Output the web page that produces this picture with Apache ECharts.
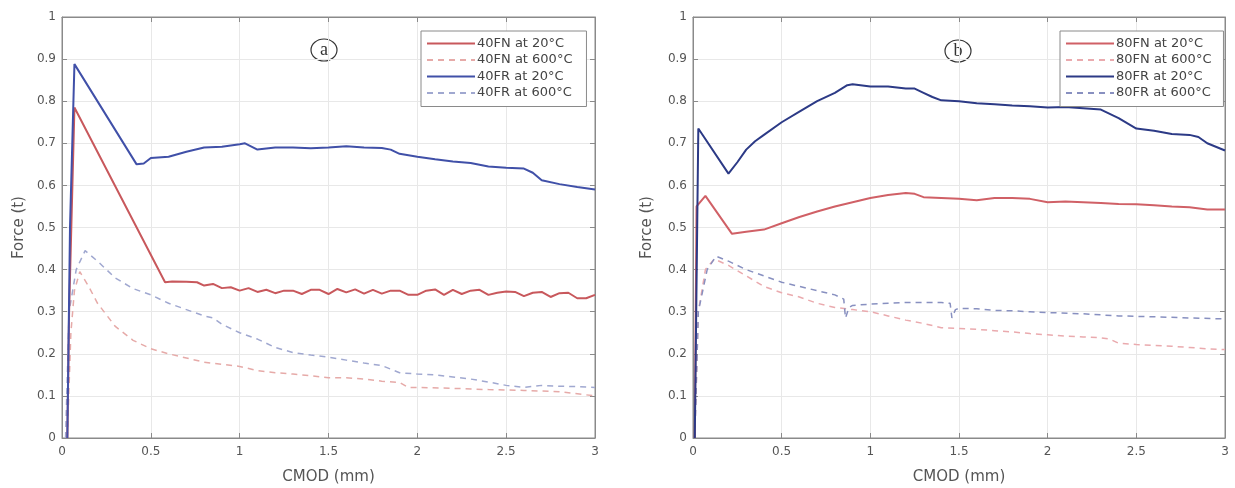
<!DOCTYPE html>
<html><head><meta charset="utf-8">
<script src="https://cdn.jsdelivr.net/npm/echarts@6/dist/echarts.min.js"></script>
<style>html,body{margin:0;padding:0;background:#fff}#c{width:1235px;height:488px}</style>
</head><body><div id="c"></div>
<script>
// ---- Data (CMOD mm, Force t) ----
const xTicks = ['0','0.5','1','1.5','2','2.5','3'];
const namesA = ['40FN at 20°C','40FN at 600°C','40FR at 20°C','40FR at 600°C'];
const namesB = ['80FN at 20°C','80FN at 600°C','80FR at 20°C','80FR at 600°C'];

const fn40_20 = [[0.03,0],[0.04,0.3],[0.07,0.785],[0.58,0.37],[0.62,0.372],[0.7,0.371],[0.76,0.37],[0.8,0.362],[0.85,0.366],[0.9,0.356],[0.95,0.358],[1.0,0.35],[1.05,0.356],[1.1,0.347],[1.15,0.352],[1.2,0.344],[1.25,0.35],[1.3,0.35],[1.35,0.342],[1.4,0.352],[1.45,0.352],[1.5,0.342],[1.55,0.354],[1.6,0.346],[1.65,0.353],[1.7,0.343],[1.75,0.352],[1.8,0.343],[1.85,0.35],[1.9,0.35],[1.95,0.34],[2.0,0.34],[2.05,0.35],[2.1,0.353],[2.15,0.34],[2.2,0.352],[2.25,0.342],[2.3,0.35],[2.35,0.352],[2.4,0.34],[2.45,0.345],[2.5,0.348],[2.55,0.347],[2.6,0.337],[2.65,0.345],[2.7,0.347],[2.75,0.335],[2.8,0.344],[2.85,0.345],[2.9,0.332],[2.95,0.332],[3.0,0.34]];
const fn40_600 = [[0.03,0],[0.05,0.25],[0.07,0.35],[0.1,0.395],[0.15,0.36],[0.2,0.32],[0.3,0.265],[0.4,0.232],[0.5,0.212],[0.6,0.2],[0.7,0.19],[0.8,0.18],[0.9,0.175],[1.0,0.17],[1.1,0.16],[1.2,0.155],[1.3,0.152],[1.4,0.148],[1.5,0.143],[1.6,0.143],[1.7,0.14],[1.8,0.135],[1.9,0.132],[1.95,0.12],[2.0,0.12],[2.2,0.118],[2.4,0.115],[2.5,0.114],[2.6,0.113],[2.8,0.11],[3.0,0.1]];
const fr40_20 = [[0.03,0],[0.045,0.5],[0.07,0.888],[0.42,0.65],[0.46,0.652],[0.5,0.665],[0.6,0.668],[0.7,0.68],[0.8,0.69],[0.9,0.692],[1.0,0.698],[1.03,0.7],[1.1,0.685],[1.2,0.69],[1.3,0.69],[1.4,0.688],[1.5,0.69],[1.6,0.693],[1.7,0.69],[1.8,0.689],[1.85,0.685],[1.9,0.675],[2.0,0.668],[2.1,0.662],[2.2,0.657],[2.3,0.653],[2.4,0.645],[2.5,0.642],[2.6,0.64],[2.65,0.63],[2.7,0.612],[2.8,0.603],[2.9,0.596],[3.0,0.59]];
const fr40_600 = [[0.02,0],[0.04,0.3],[0.08,0.4],[0.13,0.445],[0.2,0.42],[0.3,0.38],[0.4,0.355],[0.5,0.34],[0.6,0.32],[0.7,0.305],[0.8,0.29],[0.85,0.285],[0.9,0.27],[1.0,0.25],[1.1,0.235],[1.2,0.215],[1.3,0.203],[1.4,0.197],[1.5,0.192],[1.6,0.185],[1.7,0.178],[1.8,0.172],[1.9,0.155],[2.0,0.152],[2.1,0.15],[2.2,0.145],[2.3,0.14],[2.4,0.133],[2.5,0.125],[2.6,0.12],[2.7,0.125],[2.8,0.123],[2.9,0.122],[3.0,0.12]];

const fn80_20 = [[0.01,0],[0.02,0.55],[0.07,0.575],[0.22,0.485],[0.3,0.49],[0.4,0.495],[0.5,0.51],[0.6,0.525],[0.7,0.538],[0.8,0.55],[0.9,0.56],[1.0,0.57],[1.1,0.577],[1.2,0.582],[1.25,0.58],[1.3,0.572],[1.4,0.57],[1.5,0.568],[1.6,0.565],[1.7,0.57],[1.8,0.57],[1.9,0.568],[2.0,0.56],[2.1,0.562],[2.2,0.56],[2.3,0.558],[2.4,0.556],[2.5,0.555],[2.6,0.553],[2.7,0.55],[2.8,0.548],[2.9,0.543],[3.0,0.543]];
const fn80_600 = [[0.01,0],[0.03,0.3],[0.07,0.4],[0.12,0.425],[0.2,0.41],[0.3,0.385],[0.4,0.36],[0.5,0.345],[0.6,0.335],[0.7,0.32],[0.8,0.31],[0.9,0.305],[1.0,0.3],[1.1,0.29],[1.2,0.28],[1.3,0.272],[1.4,0.262],[1.5,0.26],[1.6,0.258],[1.7,0.255],[1.8,0.252],[1.9,0.248],[2.0,0.245],[2.1,0.242],[2.2,0.24],[2.3,0.238],[2.35,0.235],[2.4,0.225],[2.5,0.222],[2.6,0.22],[2.7,0.218],[2.8,0.215],[2.9,0.212],[3.0,0.21]];
const fr80_20 = [[0.01,0],[0.03,0.735],[0.2,0.628],[0.25,0.655],[0.3,0.685],[0.35,0.705],[0.4,0.72],[0.5,0.75],[0.6,0.775],[0.7,0.8],[0.8,0.82],[0.87,0.838],[0.9,0.84],[1.0,0.835],[1.1,0.835],[1.2,0.83],[1.25,0.83],[1.3,0.82],[1.35,0.81],[1.4,0.802],[1.5,0.8],[1.6,0.795],[1.7,0.793],[1.8,0.79],[1.9,0.788],[2.0,0.785],[2.1,0.786],[2.2,0.783],[2.3,0.78],[2.35,0.77],[2.4,0.76],[2.5,0.735],[2.6,0.73],[2.7,0.722],[2.8,0.72],[2.85,0.715],[2.9,0.7],[3.0,0.683]];
const fr80_600 = [[0.01,0],[0.03,0.3],[0.08,0.4],[0.13,0.432],[0.2,0.42],[0.3,0.4],[0.4,0.385],[0.5,0.37],[0.6,0.36],[0.7,0.35],[0.8,0.34],[0.85,0.33],[0.86,0.285],[0.88,0.31],[0.9,0.315],[1.0,0.318],[1.1,0.32],[1.2,0.322],[1.3,0.322],[1.4,0.322],[1.45,0.32],[1.46,0.285],[1.48,0.305],[1.5,0.308],[1.6,0.307],[1.7,0.303],[1.8,0.302],[1.9,0.3],[2.0,0.298],[2.2,0.295],[2.4,0.29],[2.6,0.288],[2.8,0.285],[3.0,0.283]];

const seriesA = [fn40_20, fn40_600, fr40_20, fr40_600];
const seriesB = [fn80_20, fn80_600, fr80_20, fr80_600];
const colA = ['#c8585c','#e6aaa8','#4050a8','#a0a8d0'];
const colB = ['#d06066','#eaaaae','#2c3a86','#8890c0'];
const dashes = ['solid','dashed','solid','dashed'];

const chart = echarts.init(document.getElementById('c'), null, {renderer:'canvas'});
const font = '"DejaVu Sans", sans-serif';
const frame = '#8a8a8a';
const grids = [{left:62, top:17, width:533, height:421, show:true, borderColor:frame, borderWidth:1, outerBoundsMode:'none', containLabel:false},
               {left:693, top:17, width:532, height:421, show:true, borderColor:frame, borderWidth:1, outerBoundsMode:'none', containLabel:false}];
const xAxes = [], yAxes = [];
const tick = {show:true, inside:true, length:5, lineStyle:{color:frame}};
for (let g=0; g<2; g++){
  xAxes.push({type:'value', gridIndex:g, min:0, max:3, interval:0.5, position:'bottom',
    name:'CMOD (mm)', nameLocation:'middle', nameGap:32, nameTextStyle:{fontFamily:font,fontSize:15,color:'#555'},
    axisLine:{show:true, onZero:false, lineStyle:{color:frame}}, axisTick:tick,
    axisLabel:{fontFamily:font, fontSize:12, color:'#555', margin:8, formatter:v=>String(v)},
    splitLine:{show:true, lineStyle:{color:'#e8e8e8'}}});
  yAxes.push({type:'value', gridIndex:g, min:0, max:1, interval:0.1, position:'left',
    name:'Force (t)', nameLocation:'middle', nameGap:g===0?35:38, nameTextStyle:{fontFamily:font,fontSize:15,color:'#555'},
    axisLine:{show:true, onZero:false, lineStyle:{color:frame}}, axisTick:tick,
    axisLabel:{fontFamily:font, fontSize:12, color:'#555', margin:6, formatter:v=>String(+v.toFixed(1))},
    splitLine:{show:true, lineStyle:{color:'#e8e8e8'}}});
}
for (let g=0; g<2; g++){
  xAxes.push({type:'value', gridIndex:g, min:0, max:3, interval:0.5, position:'top',
    axisLine:{show:true, onZero:false, lineStyle:{color:frame}}, axisTick:tick,
    axisLabel:{show:false}, splitLine:{show:false}});
  yAxes.push({type:'value', gridIndex:g, min:0, max:1, interval:0.1, position:'right',
    axisLine:{show:true, onZero:false, lineStyle:{color:frame}}, axisTick:tick,
    axisLabel:{show:false}, splitLine:{show:false}});
}
const series = [];
[[seriesA, namesA, colA],[seriesB, namesB, colB]].forEach(([arr, names, cols], g)=>{
  arr.forEach((d,i)=>{
    series.push({type:'line', name:names[i], xAxisIndex:g, yAxisIndex:g, data:d,
      showSymbol:false, symbol:'none', animation:false,
      lineStyle:{color:cols[i], width:dashes[i]==='solid'?2:1.5, type:dashes[i]==='solid'?'solid':[6,5]},
      itemStyle:{color:cols[i]}, z: dashes[i]==='solid'?3:2});
  });
});
const legendCommon = {orient:'vertical', itemWidth:48, itemHeight:14, itemGap:3.5,
  backgroundColor:'#fff', borderColor:frame, borderWidth:1, padding:[6,14,7,5],
  itemStyle:{opacity:0, borderWidth:0},
  textStyle:{fontFamily:font, fontSize:13, color:'#444', padding:[0,0,0,-3]}};
chart.setOption({
  animation:false,
  grid: grids, xAxis: xAxes, yAxis: yAxes, series: series,
  legend: [
    Object.assign({}, legendCommon, {data:namesA, left:421, top:31}),
    Object.assign({}, legendCommon, {data:namesB, left:1060, top:31, padding:[6,12,7,5]})
  ],
  graphic: [
    {type:'ellipse', shape:{cx:324, cy:50, rx:13, ry:11}, style:{fill:'none', stroke:'#333', lineWidth:1.2}},
    {type:'text', x:324, y:50, style:{text:'a', font:'18px "Liberation Serif", serif', fill:'#333', textAlign:'center', textVerticalAlign:'middle'}},
    {type:'ellipse', shape:{cx:958, cy:51, rx:13, ry:11}, style:{fill:'none', stroke:'#333', lineWidth:1.2}},
    {type:'text', x:958, y:51, style:{text:'b', font:'18px "Liberation Serif", serif', fill:'#333', textAlign:'center', textVerticalAlign:'middle'}}
  ]
});
</script></body></html>
